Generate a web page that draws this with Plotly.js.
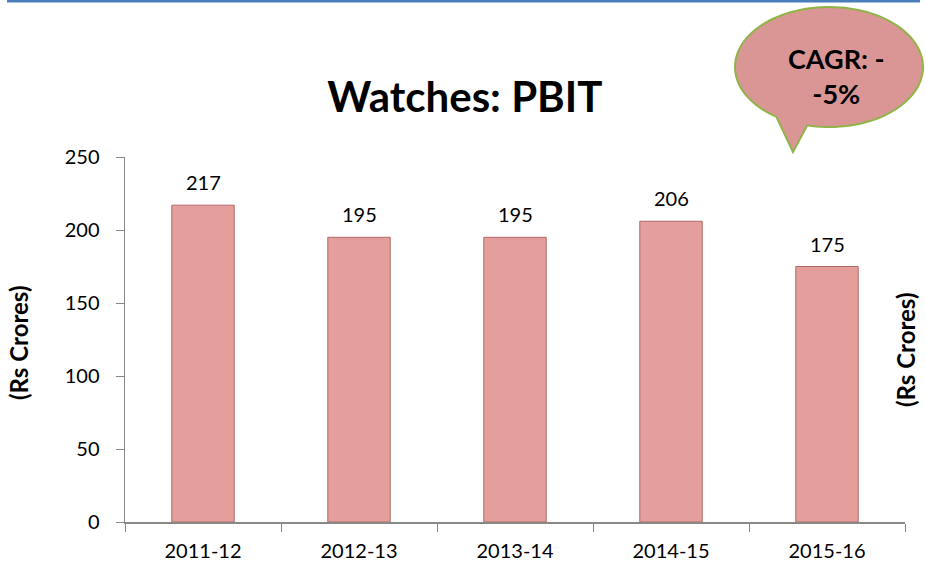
<!DOCTYPE html>
<html><head><meta charset="utf-8">
<script src="https://cdn.plot.ly/plotly-3.0.1.min.js"></script>
<style>html,body{margin:0;padding:0;background:#fff;}#chart{width:926px;height:570px;}</style>
</head><body><div id="chart"></div>
<script>
const categories = ["2011-12","2012-13","2013-14","2014-15","2015-16"];
const pbit = [217,195,195,206,175];
const yTicks = [0,50,100,150,200,250];
const titleText = "Watches: PBIT";
const axisLabel = "(Rs Crores)";
const cagrText = "CAGR: -<br>-5%";

const W=926,H=570,L=125,R=21,T=157,B=48;
const pw=W-L-R, ph=H-T-B;
function px(x){return (x-L)/pw;}
function py(y){return (H-B-y)/ph;}

// speech bubble outline (pixel -> paper)
const cx=829, cy=67, rx=94, ry=60;
const a0=Math.atan2(126-cy,815-cx), a1=Math.atan2(126-cy,789-cx);
const span=2*Math.PI-(a1-a0);
let pts=[];
const n=120;
for(let i=0;i<=n;i++){const a=a0 - i*span/n; pts.push([cx+rx*Math.cos(a), cy+ry*Math.sin(a)]);}
pts.push([793,152]);
const path = pts.map((p,i)=>(i?"L":"M")+px(p[0]).toFixed(5)+","+py(p[1]).toFixed(5)).join(" ")+" Z";

const data=[{
  type:"bar", x:categories, y:pbit, width:0.4,
  marker:{color:"#e49f9d", line:{color:"#b06866", width:1}},
  hoverinfo:"skip"
}];
const labelAnn = categories.map((c,i)=>({x:c,y:pbit[i],xref:"x",yref:"y",text:String(pbit[i]),showarrow:false,
  yshift:23,yanchor:"middle",xanchor:"center",font:{size:20,color:"#000"}}));
const layout={
  width:W,height:H,margin:{l:L,r:R,t:T,b:B},
  paper_bgcolor:"#fff",plot_bgcolor:"#fff",showlegend:false,
  font:{family:"Lato, 'Open Sans', sans-serif",color:"#000"},
  title:{text:"<b>"+titleText+"</b>",x:0.502,xref:"container",xanchor:"center",y:1-97/H,yanchor:"middle",yref:"container",font:{size:42,color:"#000"}},
  xaxis:{type:"category",showline:true,linecolor:"#888",linewidth:1.5,ticks:"outside",ticklen:8,tickcolor:"#888",tickson:"boundaries",
    tickfont:{size:20,color:"#000"},showgrid:false,zeroline:false,ticklabelstandoff:10,fixedrange:true},
  yaxis:{range:[0,250],tickvals:yTicks,showline:true,linecolor:"#888",linewidth:1.5,ticks:"outside",ticklen:8,tickcolor:"#888",
    tickfont:{size:20,color:"#000"},showgrid:false,zeroline:false,ticklabelstandoff:12,fixedrange:true},
  shapes:[
    {type:"line",xref:"paper",yref:"paper",x0:px(7),x1:px(920),y0:py(1),y1:py(1),line:{color:"#4a7ebb",width:3}},
    {type:"path",xref:"paper",yref:"paper",path:path,fillcolor:"#d99694",line:{color:"#8fb447",width:2}}
  ],
  annotations:labelAnn.concat([
    {xref:"paper",yref:"paper",x:px(18),y:py(343),text:"<b>"+axisLabel+"</b>",textangle:-90,showarrow:false,font:{size:24,color:"#000"},xanchor:"center",yanchor:"middle"},
    {xref:"paper",yref:"paper",x:px(905),y:py(350),text:"<b>"+axisLabel+"</b>",textangle:-90,showarrow:false,font:{size:24,color:"#000"},xanchor:"center",yanchor:"middle"},
    {xref:"paper",yref:"paper",x:px(836),y:py(76),text:"<b>"+cagrText+"</b>",showarrow:false,font:{size:27,color:"#000"},xanchor:"center",yanchor:"middle",align:"center"}
  ])
};
Plotly.newPlot("chart",data,layout,{displayModeBar:false,staticPlot:true});
</script></body></html>
